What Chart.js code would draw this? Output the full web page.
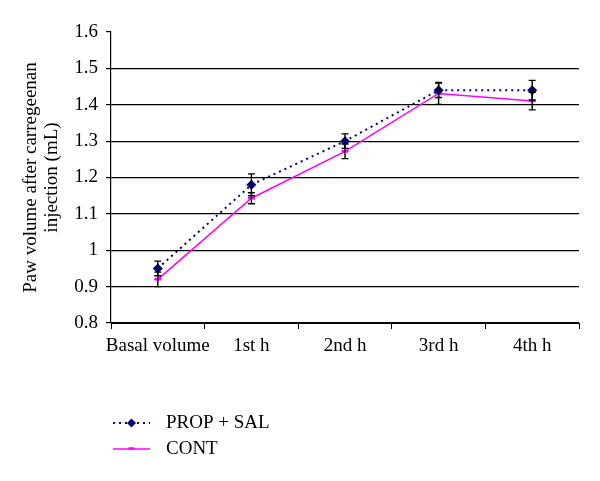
<!DOCTYPE html>
<html>
<head>
<meta charset="utf-8">
<script src="https://cdn.jsdelivr.net/npm/chart.js@4/dist/chart.umd.min.js"></script>
<style>
html, body { margin: 0; padding: 0; background: #fff; }
#wrap { width: 600px; height: 481px; position: relative; }
</style>
</head>
<body>
<div id="wrap"><canvas id="pawChart"></canvas></div>
<script>
// data
var categories = ['Basal volume', '1st h', '2nd h', '3rd h', '4th h']
var yTickValues = [0.8, 0.9, 1, 1.1, 1.2, 1.3, 1.4, 1.5, 1.6]
var propSal = [0.95, 1.18, 1.30, 1.44, 1.44]
var propSalErr = [0.02, 0.03, 0.02, 0.02, 0.027]
var cont = [0.92, 1.143, 1.272, 1.431, 1.41]
var contErr = [0.02, 0.015, 0.02, 0.03, 0.024]
var seriesNames = ['PROP + SAL', 'CONT']
var errors = [propSalErr, contErr]

var serif = "'Liberation Serif', 'DejaVu Serif', serif"
Chart.defaults.font.family = serif
Chart.defaults.font.size = 18
Chart.defaults.color = '#000'

// vẽ thanh sai số (error bars) cho từng điểm
const errorBars = {
    id: 'errorBars',
    afterDatasetsDraw(chart) {
        var ctx = chart.ctx
        var y = chart.scales.y
        ctx.save()
        ctx.strokeStyle = '#000'
        ctx.lineWidth = 1.4
        chart.data.datasets.forEach(function (ds, i) {
            var meta = chart.getDatasetMeta(i)
            meta.data.forEach(function (pt, j) {
                var v = ds.data[j], e = errors[i][j]
                var top = y.getPixelForValue(v + e)
                var bot = y.getPixelForValue(v - e)
                ctx.beginPath()
                ctx.moveTo(pt.x, top); ctx.lineTo(pt.x, bot)
                ctx.moveTo(pt.x - 3.5, top); ctx.lineTo(pt.x + 3.5, top)
                ctx.moveTo(pt.x - 3.5, bot); ctx.lineTo(pt.x + 3.5, bot)
                ctx.stroke()
            })
        })
        ctx.restore()
    }
}

// chú thích kiểu Excel, xếp dọc ở dưới
const stackedLegend = {
    id: 'stackedLegend',
    afterDraw(chart) {
        var ctx = chart.ctx
        var rows = [423, 449]
        ctx.save()
        chart.data.datasets.forEach(function (ds, i) {
            var yy = rows[i]
            ctx.strokeStyle = ds.borderColor
            ctx.lineWidth = ds.borderWidth
            ctx.setLineDash(ds.borderDash || [])
            ctx.beginPath()
            ctx.moveTo(113, yy); ctx.lineTo(150, yy)
            ctx.stroke()
            ctx.setLineDash([])
            if (ds.pointStyle === 'rectRot') {
                ctx.fillStyle = ds.pointBackgroundColor
                ctx.beginPath()
                ctx.moveTo(131.5, yy - 4.5); ctx.lineTo(136, yy)
                ctx.lineTo(131.5, yy + 4.5); ctx.lineTo(127, yy)
                ctx.closePath(); ctx.fill()
            } else {
                ctx.lineWidth = 2.5
                ctx.beginPath()
                ctx.moveTo(128.5, yy - 0.5); ctx.lineTo(134.5, yy - 0.5)
                ctx.stroke()
            }
            ctx.fillStyle = '#000'
            ctx.font = '19px ' + serif
            ctx.textBaseline = 'middle'
            ctx.fillText(ds.label, 166, yy)
        })
        ctx.restore()
    }
}

var myChart = new Chart(document.getElementById('pawChart'), {
    type: 'line',
    data: {
        labels: categories,
        datasets: [
            { label: seriesNames[0], data: propSal, borderColor: '#000080', borderWidth: 2, borderDash: [2, 4],
              pointStyle: 'rectRot', pointRadius: 5, pointBackgroundColor: '#000080', pointBorderColor: '#000080', pointBorderWidth: 0, tension: 0 },
            { label: seriesNames[1], data: cont, borderColor: '#ff00ff', borderWidth: 1.5,
              pointStyle: 'line', pointRadius: 3.5, pointBorderColor: '#ff00ff', pointBorderWidth: 2.5, tension: 0 }
        ]
    },
    options: {
        responsive: true,
        maintainAspectRatio: false,
        animation: false,
        layout: { padding: { top: 32, right: 21, bottom: 118, left: 0 } },
        plugins: { legend: { display: false }, tooltip: { enabled: false } },
        scales: {
            x: {
                offset: true,
                grid: { display: true, drawOnChartArea: false, offset: true, color: '#000', tickLength: 6 },
                border: { color: '#000', width: 1 },
                ticks: { padding: 6, maxRotation: 0, autoSkip: false, font: { size: 19 } },
                afterFit: function (s) { s.height = 40 }
            },
            y: {
                min: 0.8,
                max: 1.6,
                afterBuildTicks: function (s) { s.ticks = yTickValues.map(function (v) { return { value: v } }) },
                grid: {
                    color: function (c) { return c.tick && c.tick.value === 1.6 ? 'rgba(0,0,0,0)' : '#000' },
                    tickColor: '#000',
                    tickLength: 5,
                    lineWidth: 1.2
                },
                border: { color: '#000', width: 1.2 },
                ticks: { padding: 8, font: { size: 19 }, callback: function (v) { return String(Math.round(v * 10) / 10) } },
                title: {
                    display: true,
                    text: ['Paw volume after carregeenan', 'injection (mL)'],
                    font: { size: 19, lineHeight: 1.1 },
                    padding: { top: 21, bottom: 0 }
                },
                afterFit: function (s) { s.width = 111 }
            }
        }
    },
    plugins: [errorBars, stackedLegend]
})
</script>
</body>
</html>
